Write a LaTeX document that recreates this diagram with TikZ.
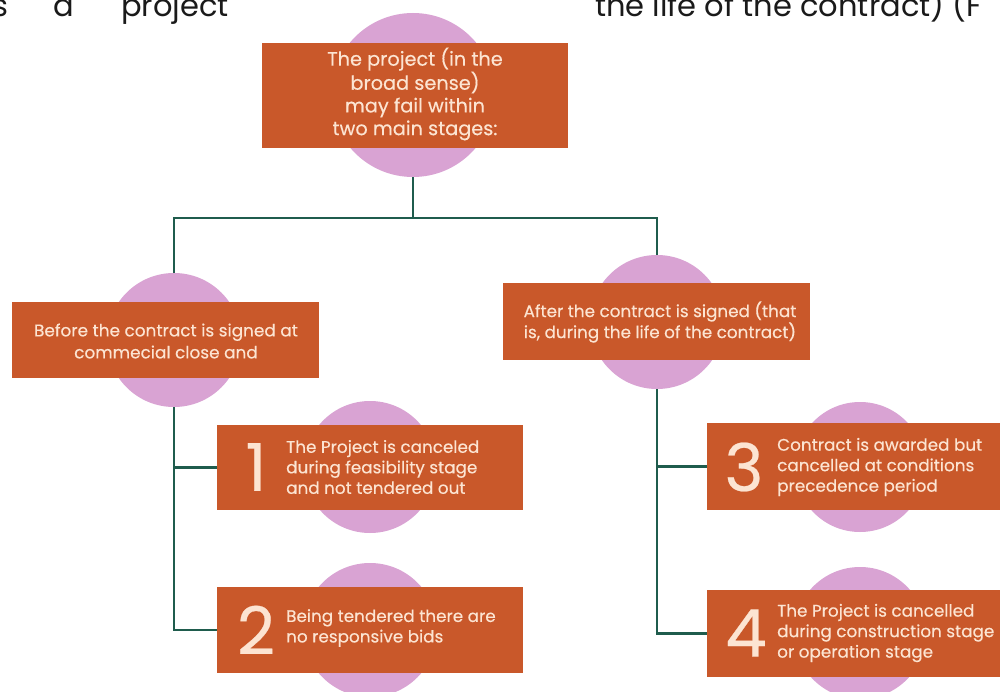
\documentclass[tikz,border=0pt]{standalone}
\usepackage{fontspec}
\setmainfont{Poppins}
\newfontfamily\medfont{Poppins}[FakeBold=0.35]
\definecolor{orangec}{HTML}{C9582A}
\definecolor{pinkc}{HTML}{D9A3D3}
\definecolor{greenc}{HTML}{1F5C4D}
\definecolor{creamc}{HTML}{FCE4D2}
\definecolor{inkc}{HTML}{1A1A1A}
\begin{document}
\begin{tikzpicture}[x=1pt,y=-1pt,
  disc/.style={circle,fill=pinkc,minimum size=#1,inner sep=0pt},
  box/.style={rectangle,fill=orangec,inner sep=0pt},
  link/.style={draw=greenc,line width=2.6pt},
  btxt/.style={text=creamc,inner sep=0pt},
  numtxt/.style={text=creamc,inner sep=0pt,font=\medfont\fontsize{66}{66}\selectfont},
  desc/.style={text=creamc,inner sep=0pt,anchor=west,align=left,font=\medfont\fontsize{16.8}{20.5}\selectfont},
  head/.style={text=inkc,inner sep=0pt,anchor=base west,font=\fontsize{30.5}{34}\selectfont}]
\useasboundingbox (0,0) rectangle (1000,692);
\clip (0,0) rectangle (1000,692);
\fill[white] (0,0) rectangle (1000,692);

% partial running text at top
\node[head,anchor=base east] (w1) at (9,17) {s};
\node[head] (w2) at (53,17) {a};
\node[head] (w3) at (121,17) {project};
\node[head] (w4) at (595,17) {the life of the contract) (F};

% pink discs
\node[disc=164pt] (c0) at (413,95) {};
\node[disc=134pt] (cL) at (174,340) {};
\node[disc=134pt] (cR) at (657,322) {};
\node[disc=132pt] (c1) at (370,467) {};
\node[disc=134pt] (c2) at (370,630) {};
\node[disc=130pt] (c3) at (860,467) {};
\node[disc=132pt] (c4) at (860,633) {};

% connectors
\coordinate (hb) at (413,218);
\draw[link] (c0.south) -- (hb);
\draw[link] (hb) -| (cL.north);
\draw[link] (hb) -| (cR.north);

% boxes
\node[box,minimum width=306pt,minimum height=105pt] (b0) at (415,95.5) {};
\node[box,minimum width=307pt,minimum height=76pt] (bL) at (165.5,340) {};
\node[box,minimum width=307pt,minimum height=77pt] (bR) at (656.5,321.5) {};
\node[box,minimum width=306pt,minimum height=85pt] (b1) at (370,467.5) {};
\node[box,minimum width=306pt,minimum height=86pt] (b2) at (370,630) {};
\node[box,minimum width=296pt,minimum height=87pt] (b3) at (855,466.5) {};
\node[box,minimum width=296pt,minimum height=87pt] (b4) at (855,633.5) {};

\draw[link] (cL.south) |- (b1.west);
\draw[link] (cL.south) |- (b2.west);
\draw[link] (cR.south) |- (b3.west);
\draw[link] (cR.south) |- (b4.west);

% texts
\node[btxt,align=center,font=\medfont\fontsize{19.3}{22.7}\selectfont] (t0) at (415,94)
  {The project (in the\\broad sense)\\may fail within\\two main stages:};
\node[btxt,align=center,font=\medfont\fontsize{16.9}{22}\selectfont] (tL) at (166,341)
  {Before the contract is signed at\\commecial close and};
\node[btxt,align=center,font=\medfont\fontsize{16.8}{21}\selectfont] (tR) at (660,322)
  {After the contract is signed (that\\is, during the life of the contract)};

\node[numtxt] (n1) at (256,467) {1};
\node[desc] (d1) at (286,467) {The Project is canceled\\during feasibility stage\\and not tendered out};
\node[numtxt] (n2) at (256,630) {2};
\node[desc] (d2) at (286,628) {Being tendered there are\\no responsive bids};
\node[numtxt] (n3) at (744,467) {3};
\node[desc] (d3) at (777,467) {Contract is awarded but\\cancelled at conditions\\precedence period};
\node[numtxt] (n4) at (746,633) {4};
\node[desc] (d4) at (777,633) {The Project is cancelled\\during construction stage\\or operation stage};
\end{tikzpicture}
\end{document}
